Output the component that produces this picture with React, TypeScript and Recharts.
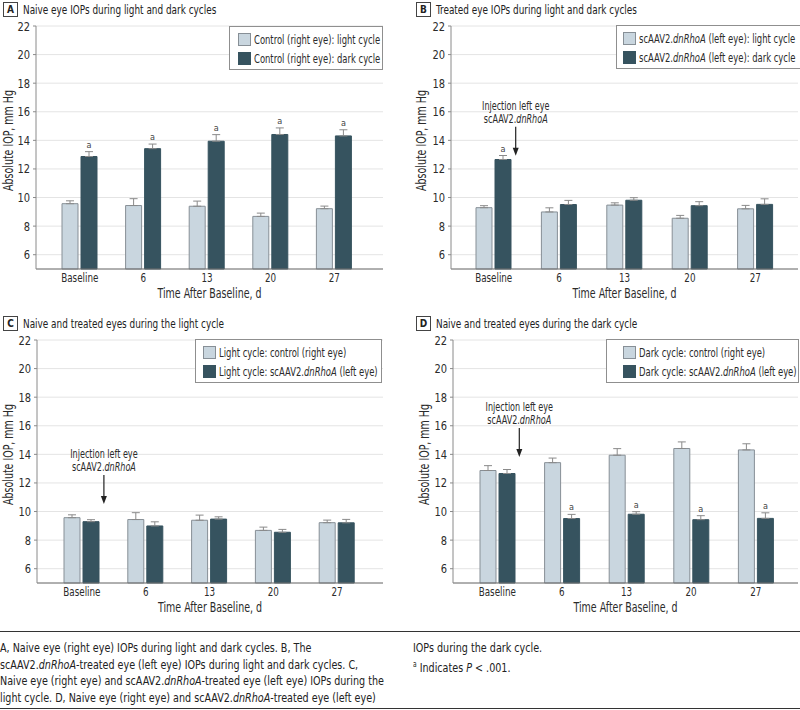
import React from "react";
import {
  BarChart,
  Bar,
  XAxis,
  YAxis,
  CartesianGrid,
  ErrorBar,
  LabelList,
  Legend,
  ReferenceDot,
} from "recharts";

const days = ["Baseline", "6", "13", "20", "27"];

// right eye (control)
const controlLight = [9.57, 9.44, 9.39, 8.68, 9.22];
const controlLightErr = [0.2, 0.48, 0.36, 0.23, 0.18];
const controlDark = [12.87, 13.42, 13.94, 14.41, 14.31];
const controlDarkErr = [0.34, 0.32, 0.46, 0.46, 0.43];

// left eye (scAAV2.dnRhoA)
const treatedLight = [9.29, 8.99, 9.47, 8.55, 9.21];
const treatedLightErr = [0.14, 0.29, 0.16, 0.2, 0.24];
const treatedDark = [12.66, 9.51, 9.81, 9.43, 9.52];
const treatedDarkErr = [0.28, 0.29, 0.18, 0.28, 0.39];

const sigA = [true, true, true, true, true];
const sigB = [true, false, false, false, false];
const sigC = [false, false, false, false, false];
const sigD = [false, true, true, true, true];

const yTicks = [6, 8, 10, 12, 14, 16, 18, 20, 22];

const LIGHT = "#c9d6df";
const LIGHT_EDGE = "#878f96";
const DARK = "#36535f";
const WHISKER = "#8a8a8a";
const INK = "#2b2b2b";
const FONT = '"Liberation Sans Narrow", "DejaVu Sans Condensed", Roboto, sans-serif';
// no narrow face installed, so squeeze the text a bit
const K = 0.78;

const buildRows = (a, aErr, b, bErr, sig) =>
  days.map((day, i) => ({
    day,
    first: a[i],
    firstErr: [0, aErr[i]],
    second: b[i],
    secondErr: [0, bErr[i]],
    sig: sig[i] ? "a" : "",
  }));

const panels = [
  {
    letter: "A",
    title: "Naive eye IOPs during light and dark cycles",
    rows: buildRows(controlLight, controlLightErr, controlDark, controlDarkErr, sigA),
    names: ["Control (right eye): light cycle", "Control (right eye): dark cycle"],
    left: 0, top: 0, axisW: 36, right: 17, pad: { left: 12, right: 17 }, labelX: 9,
    titleX: 3, legend: { left: 229, top: 26, width: 154, padLeft: 8 },
    arrowAt: null,
  },
  {
    letter: "B",
    title: "Treated eye IOPs during light and dark cycles",
    rows: buildRows(treatedLight, treatedLightErr, treatedDark, treatedDarkErr, sigB),
    names: ["scAAV2.|dnRhoA| (left eye): light cycle", "scAAV2.|dnRhoA| (left eye): dark cycle"],
    left: 400, top: 0, axisW: 51, right: 2, pad: { left: 10, right: 10 }, labelX: 22,
    titleX: 16, legend: { left: 216, top: 25, width: 190, padLeft: 6 },
    arrowAt: 14.95,
  },
  {
    letter: "C",
    title: "Naive and treated eyes during the light cycle",
    rows: buildRows(controlLight, controlLightErr, treatedLight, treatedLightErr, sigC),
    names: ["Light cycle: control (right eye)", "Light cycle: scAAV2.|dnRhoA| (left eye)"],
    left: 0, top: 314, axisW: 37, right: 17, pad: { left: 13, right: 14 }, labelX: 9,
    titleX: 3, legend: { left: 195, top: 25, width: 187, padLeft: 7 },
    arrowAt: 12.55,
  },
  {
    letter: "D",
    title: "Naive and treated eyes during the dark cycle",
    rows: buildRows(controlDark, controlDarkErr, treatedDark, treatedDarkErr, sigD),
    names: ["Dark cycle: control (right eye)", "Dark cycle: scAAV2.|dnRhoA| (left eye)"],
    left: 400, top: 314, axisW: 53, right: 2, pad: { left: 12, right: 10 }, labelX: 25,
    titleX: 16, legend: { left: 206, top: 25, width: 193, padLeft: 16 },
    arrowAt: 15.85,
  },
];

// |...| marks the italic gene name
const Rich = ({ text }) => (
  <>
    {text.split("|").map((part, i) =>
      i % 2 === 1 ? <i key={i}>{part}</i> : <span key={i}>{part}</span>
    )}
  </>
);

const Narrow = ({ children, k = K }) => (
  <span
    style={{
      display: "inline-block",
      whiteSpace: "nowrap",
      transform: `scaleX(${k})`,
      transformOrigin: "left center",
    }}
  >
    {children}
  </span>
);

const LegendBox = ({ spec, names }) => (
  <div
    style={{
      width: spec.width,
      height: 44,
      boxSizing: "border-box",
      border: "1px solid #8f8f8f",
      background: "#fff",
      paddingLeft: spec.padLeft,
      paddingTop: 6,
      fontSize: 12,
      color: INK,
      overflow: "hidden",
    }}
  >
    {names.map((name, i) => (
      <div key={i} style={{ display: "flex", alignItems: "center", height: 13, marginBottom: 6 }}>
        <span
          style={{
            flexShrink: 0,
            width: 13,
            height: 13,
            boxSizing: "border-box",
            background: i === 0 ? LIGHT : DARK,
            border: `1px solid ${i === 0 ? LIGHT_EDGE : DARK}`,
            marginRight: 3,
          }}
        />
        <Narrow>
          <Rich text={name} />
        </Narrow>
      </div>
    ))}
  </div>
);

const XTick = ({ x, y, payload }) => (
  <text transform={`translate(${x},${y}) scale(${K},1)`} textAnchor="middle" dy="0.72em" fontSize={12.5} fill={INK}>
    {payload.value}
  </text>
);

const YTick = ({ x, y, payload }) => (
  <text transform={`translate(${x},${y}) scale(0.88,1)`} textAnchor="end" dy="0.36em" fontSize={12.5} fill={INK}>
    {payload.value}
  </text>
);

const sigLabel = (rows) => (props) => {
  const vb = props.viewBox || props;
  const { x, y, width, height } = vb;
  if (!props.value) return null;
  const row = rows[props.index];
  const perUnit = height / (row.second - 5);
  const top = y - row.secondErr[1] * perUnit - 4;
  return (
    <text x={x + width / 2} y={top} textAnchor="middle" fontSize={9} fill="#444">
      a
    </text>
  );
};

const InjectionMark = ({ cx, cy }) => {
  const x = cx + 22;
  return (
    <g>
      <text transform={`translate(${x},${cy - 17}) scale(${K},1)`} textAnchor="middle" fontSize={11.5} fill={INK}>
        Injection left eye
      </text>
      <text transform={`translate(${x},${cy - 4}) scale(${K},1)`} textAnchor="middle" fontSize={11.5} fill={INK}>
        scAAV2.<tspan fontStyle="italic">dnRhoA</tspan>
      </text>
      <line x1={x} y1={cy} x2={x} y2={cy + 22} stroke="#222" strokeWidth={1.2} />
      <path d={`M${x - 3},${cy + 21} L${x + 3},${cy + 21} L${x},${cy + 29} Z`} fill="#222" />
    </g>
  );
};

function Panel({ spec }) {
  const { rows } = spec;
  return (
    <div style={{ position: "absolute", left: spec.left, top: spec.top, width: 400, height: 314 }}>
      <div
        style={{
          position: "absolute",
          left: spec.titleX,
          top: 2,
          display: "flex",
          alignItems: "center",
          fontSize: 13,
          color: "#222",
          zIndex: 2,
          whiteSpace: "nowrap",
        }}
      >
        <span
          style={{
            display: "inline-block",
            width: 13,
            height: 13,
            lineHeight: "13px",
            border: "1px solid #444",
            textAlign: "center",
            fontSize: 10,
            fontWeight: "bold",
            marginRight: 5,
          }}
        >
          {spec.letter}
        </span>
        <Narrow k={0.76}>{spec.title}</Narrow>
      </div>
      <BarChart
        width={400}
        height={310}
        data={rows}
        margin={{ top: 26, right: spec.right, left: 0, bottom: 0 }}
        barSize={16}
        barGap={3}
      >
        <CartesianGrid vertical={false} stroke="#e4e4e4" />
        <XAxis
          dataKey="day"
          height={41}
          padding={spec.pad}
          tickLine={false}
          tickSize={0}
          tickMargin={4}
          stroke="#6f6f6f"
          tick={<XTick />}
          label={{
            content: ({ viewBox }) => {
              const cx = viewBox.x + viewBox.width / 2;
              const by = viewBox.y + viewBox.height - 12;
              return (
                <text transform={`translate(${cx},${by}) scale(${K},1)`} textAnchor="middle" fontSize={13.5} fill={INK}>
                  Time After Baseline, d
                </text>
              );
            },
          }}
        />
        <YAxis
          width={spec.axisW}
          domain={[5, 22]}
          ticks={yTicks}
          interval={0}
          tickSize={3}
          tickMargin={3}
          stroke="#8a8a8a"
          tick={<YTick />}
          label={{
            content: ({ viewBox }) => {
              const cy = viewBox.y + viewBox.height / 2 - 7;
              return (
                <text
                  transform={`translate(${spec.labelX},${cy}) rotate(-90) scale(${K},1)`}
                  textAnchor="middle"
                  dominantBaseline="central"
                  fontSize={13.5}
                  fill={INK}
                >
                  Absolute IOP, mm Hg
                </text>
              );
            },
          }}
        />
        <Legend
          layout="vertical"
          align="center"
          verticalAlign="middle"
          wrapperStyle={{ left: spec.legend.left, top: spec.legend.top, width: spec.legend.width }}
          content={() => <LegendBox spec={spec.legend} names={spec.names} />}
        />
        <Bar dataKey="first" name={spec.names[0]} fill={LIGHT} stroke={LIGHT_EDGE} strokeWidth={1} isAnimationActive={false}>
          <ErrorBar dataKey="firstErr" width={4} stroke={WHISKER} strokeWidth={1} />
        </Bar>
        <Bar dataKey="second" name={spec.names[1]} fill={DARK} stroke={DARK} strokeWidth={1} isAnimationActive={false}>
          <ErrorBar dataKey="secondErr" width={4} stroke={WHISKER} strokeWidth={1} />
          <LabelList dataKey="sig" content={sigLabel(rows)} />
        </Bar>
        {spec.arrowAt !== null && (
          <ReferenceDot
            x="Baseline"
            y={spec.arrowAt}
            r={0}
            ifOverflow="visible"
            shape={(p) => <InjectionMark cx={p.cx} cy={p.cy} />}
          />
        )}
      </BarChart>
    </div>
  );
}

const captionLeft = [
  "A, Naive eye (right eye) IOPs during light and dark cycles. B, The",
  "scAAV2.|dnRhoA|-treated eye (left eye) IOPs during light and dark cycles. C,",
  "Naive eye (right eye) and scAAV2.|dnRhoA|-treated eye (left eye) IOPs during the",
  "light cycle. D, Naive eye (right eye) and scAAV2.|dnRhoA|-treated eye (left eye)",
];

export default function App() {
  return (
    <div style={{ position: "relative", width: 800, height: 710, fontFamily: FONT, background: "#fff", overflow: "hidden" }}>
      <style>{`body{margin:0}`}</style>
      {panels.map((spec) => (
        <Panel key={spec.letter} spec={spec} />
      ))}
      <div style={{ position: "absolute", left: 0, top: 631, width: 800, borderTop: "1px solid #333" }} />
      <div style={{ position: "absolute", left: 0, top: 640, fontSize: 13, color: "#222", lineHeight: "16.5px" }}>
        {captionLeft.map((line, i) => (
          <div key={i}>
            <Narrow k={0.82}>
              <Rich text={line} />
            </Narrow>
          </div>
        ))}
      </div>
      <div style={{ position: "absolute", left: 413, top: 640, fontSize: 13, color: "#222", lineHeight: "16.5px" }}>
        <div>
          <Narrow k={0.82}>IOPs during the dark cycle.</Narrow>
        </div>
        <div>
          <Narrow k={0.82}>
            <sup style={{ fontSize: 8 }}>a</sup> Indicates <i>P</i> &lt; .001.
          </Narrow>
        </div>
      </div>
      <div style={{ position: "absolute", left: 0, top: 708, width: 800, borderTop: "1px solid #333" }} />
    </div>
  );
}
